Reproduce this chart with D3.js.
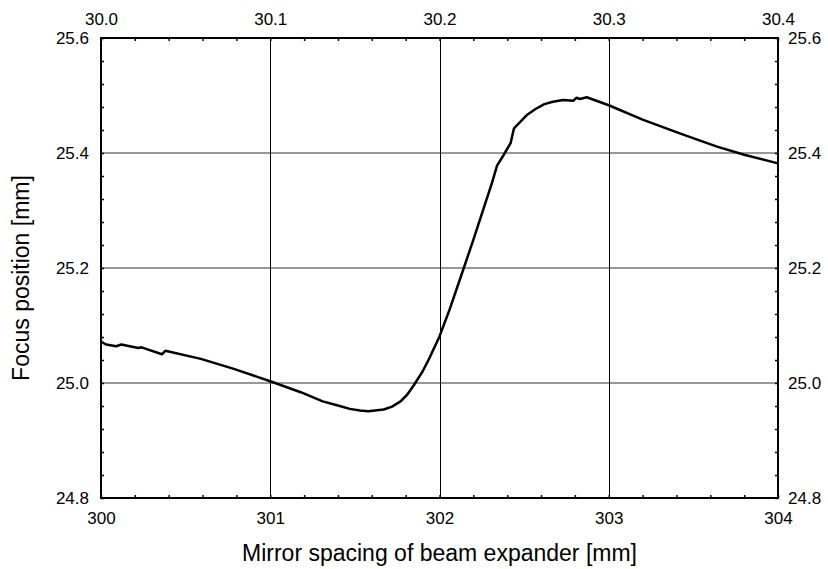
<!DOCTYPE html>
<html>
<head>
    <meta charset="UTF-8">
    <title>Focus position vs mirror spacing</title>
    <script src="https://cdn.jsdelivr.net/npm/d3@7"></script>
    <style>
        body { margin: 0; background: #fff; }
        text { font-family: "Liberation Sans", Arial, sans-serif; fill: #000; }
    </style>
</head>
<body>
<div id="chart"></div>
<script>
    // mirror spacing [mm] and focus position [mm]
    var spacing = [300.00, 300.03, 300.09, 300.12, 300.22, 300.24, 300.36, 300.38,
        300.59, 300.78, 301.00, 301.18, 301.31, 301.40, 301.47, 301.53, 301.58, 301.67,
        301.72, 301.77, 301.81, 301.85, 301.90, 301.94, 302.00, 302.06, 302.14, 302.20, 302.31,
        302.34, 302.38, 302.42, 302.44, 302.48, 302.52, 302.57, 302.62, 302.67,
        302.73, 302.79, 302.81, 302.83, 302.87, 303.00, 303.20, 303.44, 303.64, 303.80, 304.00];
    var focus = [25.072, 25.067, 25.064, 25.067, 25.061, 25.062, 25.050, 25.056,
        25.042, 25.025, 25.003, 24.984, 24.968, 24.961, 24.955, 24.952, 24.951, 24.954,
        24.959, 24.968, 24.980, 24.997, 25.020, 25.043, 25.081, 25.128, 25.197, 25.249, 25.348,
        25.378, 25.397, 25.417, 25.443, 25.455, 25.467, 25.477, 25.485, 25.489,
        25.492, 25.491, 25.496, 25.494, 25.497, 25.483, 25.458, 25.432, 25.411, 25.397, 25.382];

    var xTicks = [300, 301, 302, 303, 304];
    var topTicks = [30.0, 30.1, 30.2, 30.3, 30.4];
    var yTicks = [24.8, 25.0, 25.2, 25.4, 25.6];

    var W = 828, H = 569;
    var L = 101, R = 778, T = 38, B = 498;

    var svg = d3.select("#chart").append("svg")
        .attr("width", W)
        .attr("height", H);

    var x = d3.scaleLinear().domain([300, 304]).range([L, R]);
    var xTop = d3.scaleLinear().domain([30.0, 30.4]).range([L, R]);
    var y = d3.scaleLinear().domain([24.8, 25.6]).range([B, T]);

    // grid lines
    svg.append("g")
        .selectAll("line.vg")
        .data(xTicks.slice(1, -1))
        .enter().append("line")
        .attr("x1", function (d) { return Math.round(x(d)) + 0.5; })
        .attr("x2", function (d) { return Math.round(x(d)) + 0.5; })
        .attr("y1", T).attr("y2", B)
        .attr("stroke", "#000").attr("stroke-width", 1);
    svg.append("g")
        .selectAll("line.hg")
        .data(yTicks.slice(1, -1))
        .enter().append("line")
        .attr("x1", L).attr("x2", R)
        .attr("y1", function (d) { return y(d); })
        .attr("y2", function (d) { return y(d); })
        .attr("stroke", "#333").attr("stroke-width", 1);

    // minor ticks: 5 per major interval
    function minors(scale, n) {
        var d = scale.domain(), out = [];
        for (var k = 0; k <= n; k++) out.push(d[0] + (d[1] - d[0]) * k / n);
        return out;
    }
    var fontSize = 17;

    function styleAxis(g) {
        g.select(".domain").remove();
        g.selectAll(".tick line").attr("stroke", "#000").attr("stroke-width", 1.5);
        g.selectAll(".tick text").style("font-size", fontSize + "px")
            .style("font-family", "'Liberation Sans', Arial, sans-serif");
    }

    function labelFrom(list, fmt) {
        return function (d) {
            var m = list.find(function (t) { return Math.abs(t - d) < 1e-6; });
            return m === undefined ? "" : d3.format(fmt)(m);
        };
    }

    svg.append("g").attr("transform", "translate(0," + B + ")")
        .call(d3.axisBottom(x).tickValues(minors(x, 20)).tickSize(-3)
            .tickFormat(labelFrom(xTicks, "d")).tickPadding(14))
        .call(styleAxis);

    svg.append("g").attr("transform", "translate(0," + T + ")")
        .call(d3.axisTop(xTop).tickValues(minors(xTop, 20)).tickSize(-3)
            .tickFormat(labelFrom(topTicks, ".1f")).tickPadding(13))
        .call(styleAxis);

    svg.append("g").attr("transform", "translate(" + L + ",0)")
        .call(d3.axisLeft(y).tickValues(minors(y, 20)).tickSize(-3)
            .tickFormat(labelFrom(yTicks, ".1f")).tickPadding(12))
        .call(styleAxis);

    svg.append("g").attr("transform", "translate(" + R + ",0)")
        .call(d3.axisRight(y).tickValues(minors(y, 20)).tickSize(-3)
            .tickFormat(labelFrom(yTicks, ".1f")).tickPadding(10))
        .call(styleAxis);

    // frame
    svg.append("rect")
        .attr("x", L).attr("y", T)
        .attr("width", R - L).attr("height", B - T)
        .attr("fill", "none")
        .attr("stroke", "#000")
        .attr("stroke-width", 2);

    // curve
    var line = d3.line()
        .x(function (d, i) { return x(spacing[i]); })
        .y(function (d) { return y(d); });
    svg.append("path")
        .datum(focus)
        .attr("d", line)
        .attr("fill", "none")
        .attr("stroke", "#000")
        .attr("stroke-width", 2.5)
        .attr("stroke-linejoin", "round");

    // axis titles
    svg.append("text")
        .attr("x", (L + R) / 2).attr("y", 561)
        .attr("text-anchor", "middle")
        .style("font-size", "23px")
        .text("Mirror spacing of beam expander [mm]");
    svg.append("text")
        .attr("transform", "translate(29," + 278 + ") rotate(-90)")
        .attr("text-anchor", "middle")
        .style("font-size", "23px")
        .text("Focus position [mm]");
</script>
</body>
</html>
